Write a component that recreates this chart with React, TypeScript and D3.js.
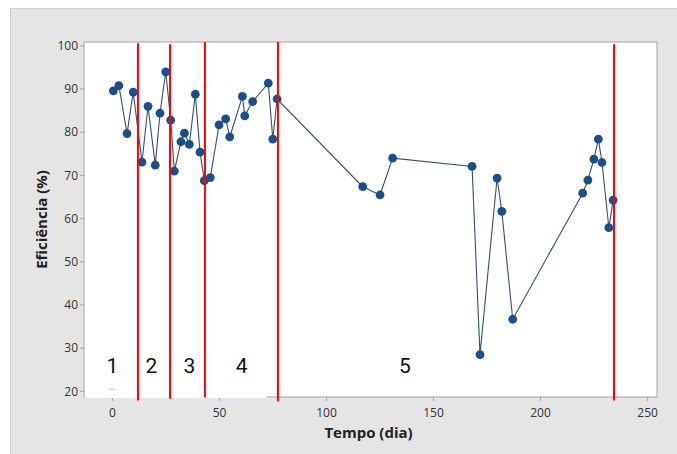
// Eficiência ao longo do tempo, com os 5 períodos marcados por linhas vermelhas

import React from 'react';
import * as d3 from 'd3';

// dias de operação
const dias = [
  0.4, 3.0, 6.8, 9.7, 13.8, 16.6, 20.0, 22.2, 24.9, 27.2, 28.9, 32.0, 33.6, 35.9,
  38.7, 40.9, 42.9, 45.7, 49.8, 52.9, 54.8, 60.7, 61.8, 65.5, 72.8, 74.9, 76.9,
  116.9, 125.0, 130.9, 168.0, 171.7, 179.7, 181.9, 187.0,
  219.7, 222.1, 224.9, 227.0, 228.7, 231.9, 233.9,
];

// eficiência (%) em cada dia
const eficiencia = [
  89.6, 90.8, 79.7, 89.3, 73.1, 86.0, 72.4, 84.4, 94.0, 82.8, 71.0, 77.8, 79.8, 77.2,
  88.8, 75.4, 68.8, 69.5, 81.7, 83.1, 78.9, 88.3, 83.8, 87.1, 91.4, 78.4, 87.7,
  67.4, 65.5, 74.0, 72.1, 28.5, 69.4, 61.7, 36.7,
  65.9, 68.9, 73.8, 78.4, 73.0, 57.9, 64.3,
];

// limites entre os períodos (linhas vermelhas)
const limites = [11.9, 26.9, 43.2, 77.3, 234.3];
// as linhas foram traçadas à mão: topo e base de cada uma
const limitesTopo = [100.6, 100.4, 100.9, 100.9, 100.4];
const limitesBase = [17.9, 18.3, 18.6, 17.7, 17.9];

// rótulos dos períodos e onde ficam no eixo x
const periodos = ['1', '2', '3', '4', '5'];
const periodosX = [0, 18.2, 36, 60.3, 136.6];

const xTicks = [0, 50, 100, 150, 200, 250];
const yTicks = [20, 30, 40, 50, 60, 70, 80, 90, 100];

const App = () => {
  const width = 677, height = 454;
  const plot = { left: 84, right: 657, top: 42, bottom: 397 };

  const xScale = d3.scaleLinear().domain([-13.3, 254.4]).range([plot.left, plot.right]);
  const yScale = d3.scaleLinear().domain([18.7, 100.9]).range([plot.bottom, plot.top]);

  const pontos = dias.map((d, i) => ({ x: d, y: eficiencia[i] }));
  const linha = d3.line<{ x: number; y: number }>().x(d => xScale(d.x)).y(d => yScale(d.y));

  const font = '"Open Sans", "Noto Sans", sans-serif';
  const gridColor = '#a3a3a3';

  return (
    <svg width={width} height={height} style={{ position: 'absolute', left: 0, top: 0, display: 'block' }}>
      {/* fundo cinza do gráfico */}
      <rect x={0} y={0} width={width} height={height} fill="#fff" />
      <rect x={10.5} y={8.5} width={width - 10} height={height - 8} fill="#e5e5e5" stroke="#cfcfcf" />
      {/* área de plotagem */}
      <rect x={plot.left} y={plot.top} width={plot.right - plot.left} height={plot.bottom - plot.top} fill="#fff" stroke={gridColor} />

      {/* eixo y */}
      {yTicks.map(t => (
        <g key={`y${t}`} transform={`translate(0, ${yScale(t)})`}>
          <line x1={plot.left - 4} x2={plot.left} stroke={gridColor} />
          <text x={plot.left - 6} dy="0.35em" textAnchor="end" fontSize="12px" fill="#333" fontFamily={font}>{t}</text>
        </g>
      ))}
      {/* eixo x */}
      {xTicks.map(t => (
        <g key={`x${t}`} transform={`translate(${xScale(t)}, ${plot.bottom})`}>
          <line y1={0} y2={4} stroke={gridColor} />
          <text y={20} textAnchor="middle" fontSize="12px" fill="#333" fontFamily={font}>{t}</text>
        </g>
      ))}

      {/* caixas de texto brancas que cobrem a borda inferior nos períodos 1-4 */}
      <rect x={plot.left + 1} y={plot.bottom - 4} width={xScale(72) - plot.left - 1} height={5} fill="#fff" />
      <line x1={xScale(-1.8)} x2={xScale(1.2)} y1={yScale(20.5)} y2={yScale(20.5)} stroke="#bbb" />

      {/* série */}
      <path d={linha(pontos) ?? ''} fill="none" stroke="#34506f" strokeWidth={1.1} />
      {pontos.map((d, i) => (
        <circle key={i} cx={xScale(d.x)} cy={yScale(d.y)} r={4.4} fill="#1b4f8a" />
      ))}

      {/* linhas vermelhas dos períodos */}
      {limites.map((l, i) => (
        <line key={`l${i}`} x1={xScale(l)} x2={xScale(l)} y1={yScale(limitesTopo[i])} y2={yScale(limitesBase[i])} stroke="#ff0000" strokeWidth={2} />
      ))}

      {/* rótulos dos períodos */}
      {periodos.map((p, i) => (
        <text key={`p${p}`} x={xScale(periodosX[i])} y={yScale(24.3)} textAnchor="middle" fontSize="21px" fill="#111" fontFamily='"Liberation Sans Narrow", Roboto, sans-serif'>{p}</text>
      ))}

      {/* títulos dos eixos */}
      <text x={(plot.left + plot.right) / 2 - 2} y={438} textAnchor="middle" fontSize="15px" fontWeight="bold" fill="#222" fontFamily={font}>Tempo (dia)</text>
      <text transform={`translate(47, ${(plot.top + plot.bottom) / 2}) rotate(-90)`} textAnchor="middle" fontSize="15px" fontWeight="bold" fill="#222" fontFamily={font}>Eficiência (%)</text>
    </svg>
  );
};

export default App;
